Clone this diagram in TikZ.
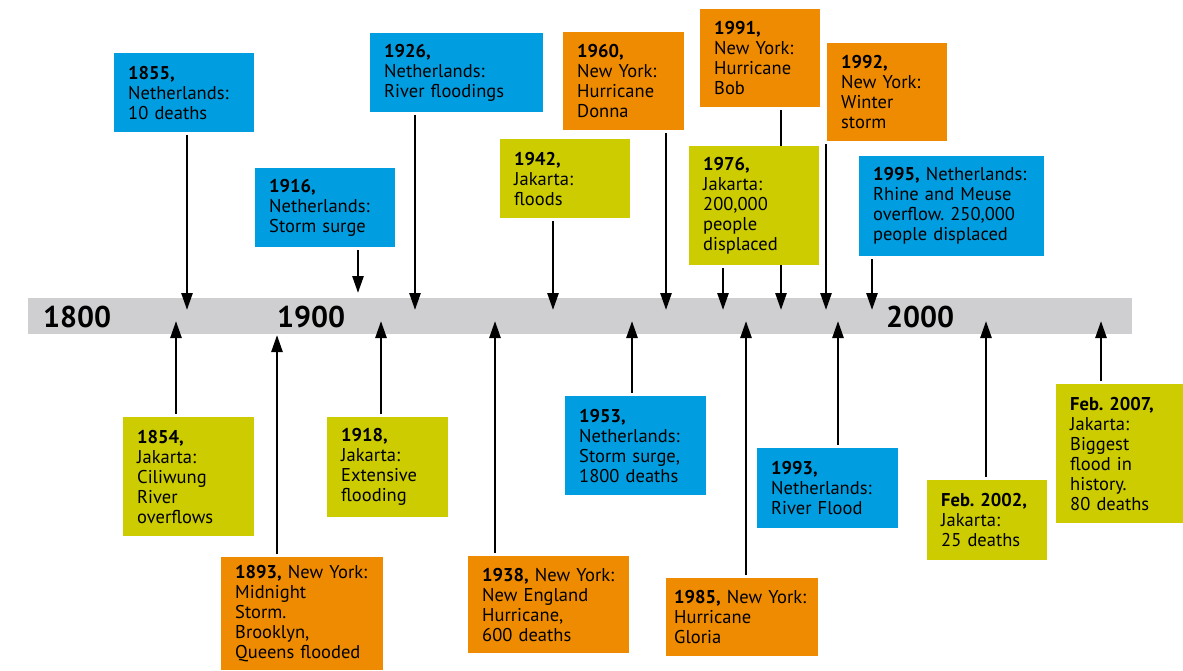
\documentclass[tikz,border=0pt]{standalone}
\usepackage{fontspec}
\setmainfont{PT Sans}
\frenchspacing
\usetikzlibrary{arrows.meta}
\usetikzlibrary{backgrounds}
\definecolor{nlblue}{HTML}{009EE0}
\definecolor{nyorange}{HTML}{EE8B00}
\definecolor{jkyellow}{HTML}{CCCC00}
\definecolor{bargray}{HTML}{CFCFD1}

\begin{document}
\begin{tikzpicture}[x=1pt, y=-1pt,
  evtbox/.style={anchor=north west, inner xsep=14pt, inner ysep=0pt, align=left,
    font=\fontsize{18.5}{20}\selectfont},
  nl/.style={evtbox, fill=nlblue},
  ny/.style={evtbox, fill=nyorange},
  jk/.style={evtbox, fill=jkyellow},
  pointer/.style={-{Triangle[length=17pt,width=11pt]}, line width=2.6pt, shorten <=3pt},
  decade/.style={anchor=base west, inner sep=0pt, font=\fontsize{30}{30}\selectfont\bfseries}]
  \useasboundingbox (0,0) rectangle (1183,670);

  % events above the line
  \node[nl, text width=112pt, minimum height=79pt] (b1855) at (114,53) {\textbf{1855,}\\Netherlands:\\10 deaths};
  \node[nl, text width=112pt, minimum height=79pt] (b1916) at (255,168) {\textbf{1916,}\\Netherlands:\\Storm surge};
  \node[nl, text width=145pt, minimum height=79pt] (b1926) at (370,33) {\textbf{1926,}\\Netherlands:\\River floodings};
  \node[jk, text width=102pt, minimum height=79pt] (b1942) at (500,139) {\textbf{1942,}\\Jakarta:\\floods};
  \node[ny, text width=93pt, minimum height=98pt] (b1960) at (563,32) {\textbf{1960,}\\New York:\\Hurricane\\Donna};
  \node[ny, text width=92pt, minimum height=98pt] (b1991) at (700,9) {\textbf{1991,}\\New York:\\Hurricane\\Bob};
  \node[jk, text width=102pt, minimum height=119pt] (b1976) at (689,146) {\textbf{1976,}\\Jakarta:\\200,000\\people\\displaced};
  \node[ny, text width=92pt, minimum height=98pt] (b1992) at (827,43) {\textbf{1992,}\\New York:\\Winter\\storm};
  \node[nl, text width=157pt, minimum height=100pt] (b1995) at (859,156) {\textbf{1995,} Netherlands:\\Rhine and Meuse\\overflow. 250,000\\people displaced};

  % events below the line
  \node[jk, text width=103pt, minimum height=119pt] (b1854) at (123,417) {\textbf{1854,}\\Jakarta:\\Ciliwung\\River\\overflows};
  \node[ny, text width=134pt, minimum height=113pt] (b1893) at (221,557) {\textbf{1893,} New York:\\Midnight\\Storm.\\Brooklyn,\\Queens flooded};
  \node[jk, text width=93pt, minimum height=100pt] (b1918) at (327,417) {\textbf{1918,}\\Jakarta:\\Extensive\\flooding};
  \node[ny, text width=133pt, minimum height=97pt] (b1938) at (468,556) {\textbf{1938,} New York:\\New England\\Hurricane,\\600 deaths};
  \node[nl, text width=113pt, minimum height=99pt] (b1953) at (565,396) {\textbf{1953,}\\Netherlands:\\Storm surge,\\1800 deaths};
  \node[ny, text width=136pt, inner xsep=8pt, minimum height=78pt] (b1985) at (666,578) {\textbf{1985,} New York:\\Hurricane\\Gloria};
  \node[nl, text width=113pt, minimum height=80pt] (b1993) at (757,448) {\textbf{1993,}\\Netherlands:\\River Flood};
  \node[jk, text width=92pt, minimum height=80pt] (b2002) at (927,480) {\textbf{Feb. 2002,}\\Jakarta:\\25 deaths};
  \node[jk, text width=99pt, minimum height=139pt] (b2007) at (1056,384) {\textbf{Feb. 2007,}\\Jakarta:\\Biggest\\flood in\\history.\\80 deaths};

  % the time line and the pointers, under the boxes
  \begin{scope}[on background layer]
    \node[fill=bargray, anchor=north west, inner sep=0pt, minimum width=1104pt, minimum height=36pt] (bar) at (28,298) {};
    \foreach \e/\x/\y in {1855/187/310, 1916/358/293, 1926/415/310, 1942/553/310, 1960/666/310,
                          1991/781/310, 1976/723/310, 1992/826/310, 1995/872/310} {
      \coordinate (t\e) at (\x,\y);
      \draw[pointer] (b\e.south -| t\e) -- (t\e);
    }
    \foreach \e/\x/\y in {1854/176/321, 1893/277/335, 1918/381/321, 1938/495/321, 1953/632/321,
                          1985/746/321, 1993/838/321, 2002/986/321, 2007/1101/321} {
      \coordinate (t\e) at (\x,\y);
      \draw[pointer] (b\e.north -| t\e) -- (t\e);
    }
  \end{scope}

  \node[decade] (d1800) at (43,327) {1800};
  \node[decade] (d1900) at (277,327) {1900};
  \node[decade] (d2000) at (886,327) {2000};
\end{tikzpicture}
\end{document}
